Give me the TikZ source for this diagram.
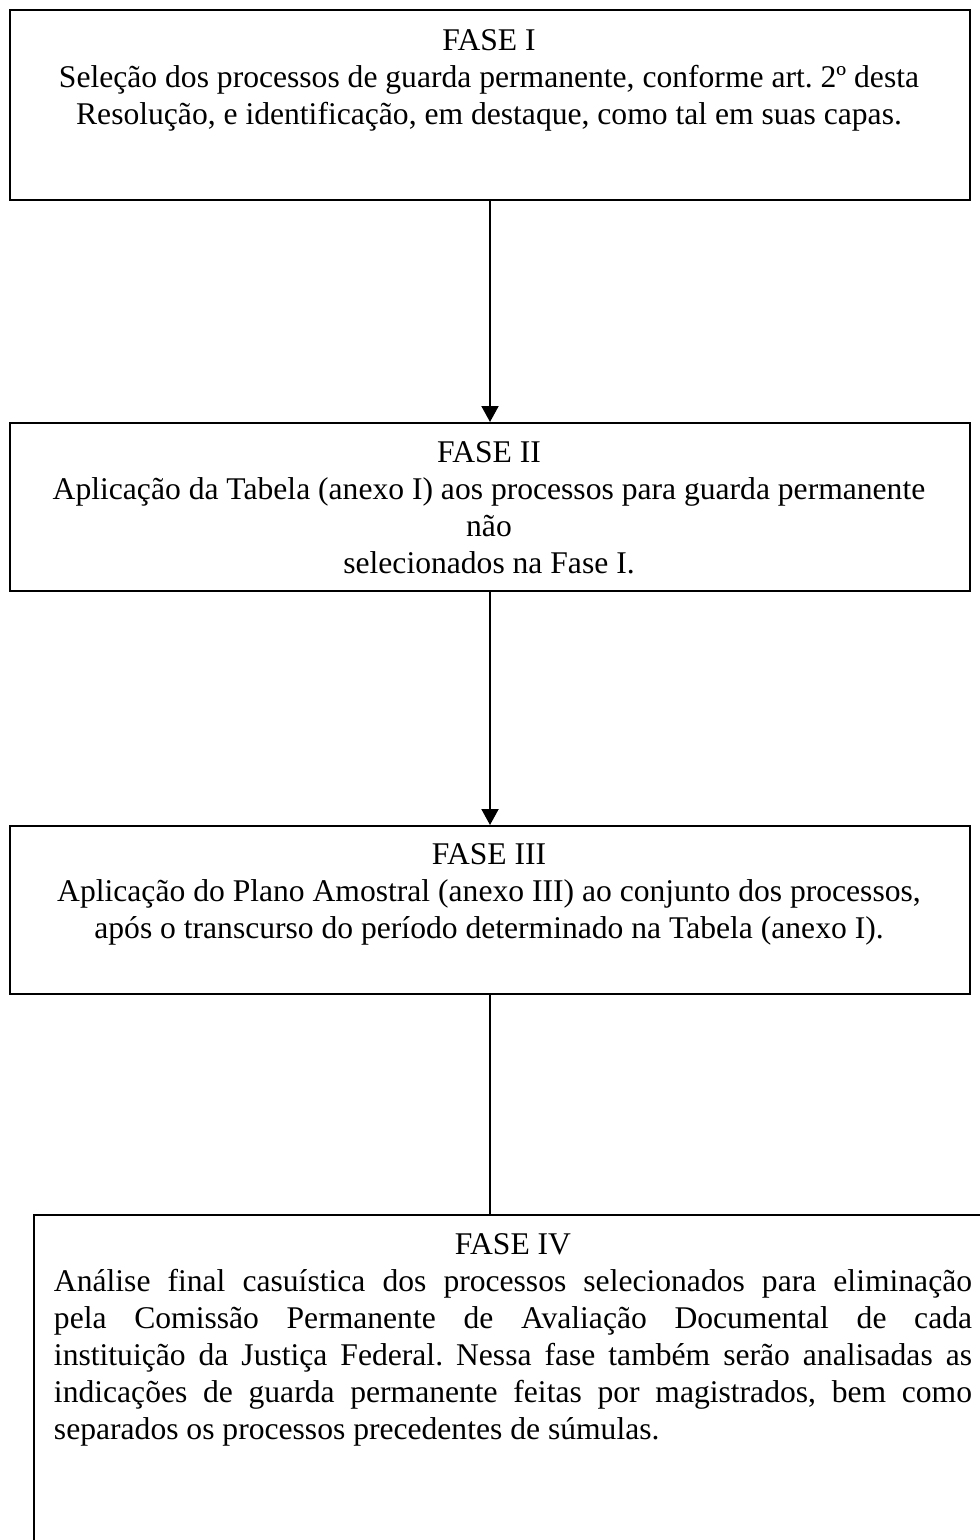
\documentclass[tikz,border=0pt]{standalone}
\usepackage{fontspec}
\setmainfont{Liberation Serif}
\usepackage{tikz}
\usetikzlibrary{shapes,arrows,arrows.meta,positioning}
\frenchspacing

\begin{document}
\begin{tikzpicture}[x=0.5pt,y=-0.5pt,fase/.style={draw,line width=1pt,anchor=north west,inner sep=0pt},texto/.style={anchor=north,inner sep=0pt,font=\fontsize{15.8}{18.5}\selectfont},seta/.style={line width=1pt,-{Triangle[length=8pt,width=8.5pt]}}]
  \useasboundingbox (0,0) rectangle (979,1540);
  \node[fase,minimum width=480pt,minimum height=95pt] (fase1) at (9,9) {};
  \node[fase,minimum width=480pt,minimum height=84pt] (fase2) at (9,422) {};
  \node[fase,minimum width=480pt,minimum height=84pt] (fase3) at (9,825) {};
  \node[fase,minimum width=484pt,minimum height=173pt] (fase4) at (33,1214) {};
  \node[texto,align=center] (t1) at (489,29) {FASE I\\Seleção dos processos de guarda permanente, conforme art. 2º desta\\Resolução, e identificação, em destaque, como tal em suas capas.};
  \node[texto,align=center] (t2) at (489,441) {FASE II\\Aplicação da Tabela (anexo I) aos processos para guarda permanente\\não\\selecionados na Fase I.};
  \node[texto,align=center] (t3) at (489,843) {FASE III\\Aplicação do Plano Amostral (anexo III) ao conjunto dos processos,\\após o transcurso do período determinado na Tabela (anexo I).};
  \node[texto,align=justify,text width=459pt] (t4) at (513,1233) {\makebox[\linewidth]{FASE IV}\par Análise final casuística dos processos selecionados para eliminação\linebreak pela Comissão Permanente de Avaliação Documental de cada\linebreak instituição da Justiça Federal. Nessa fase também serão analisadas as\linebreak indicações de guarda permanente feitas por magistrados, bem como\linebreak separados os processos precedentes de súmulas.};
  \draw[seta] (fase1.south) -- (fase2.north);
  \draw[seta] (fase2.south) -- (fase3.north);
  \draw[line width=1pt] (fase3.south) -- (fase3.south |- fase4.north);
\end{tikzpicture}
\end{document}
